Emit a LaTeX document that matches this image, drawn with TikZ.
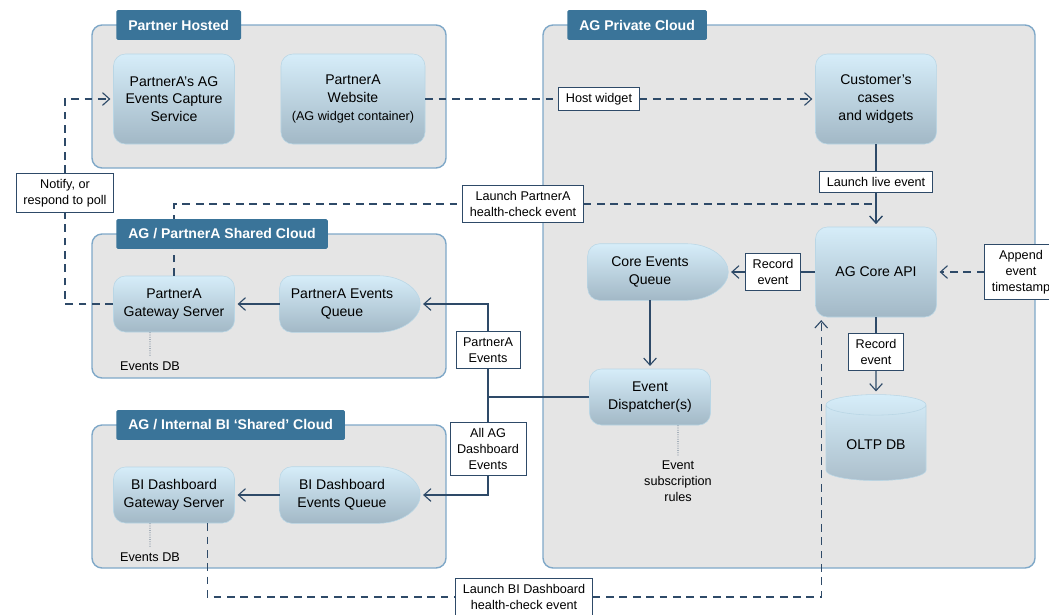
\documentclass[tikz,border=0pt]{standalone}
\usepackage{fontspec}
\setmainfont{Liberation Sans}
\usetikzlibrary{positioning, shapes.geometric, arrows.meta, backgrounds}

\definecolor{lineblue}{HTML}{2E4A68}
\definecolor{tabblue}{HTML}{3A7499}
\definecolor{cloudgray}{HTML}{E5E5E5}
\definecolor{cloudedge}{HTML}{7FA8C8}
\definecolor{boxtop}{HTML}{D6EDF9}
\definecolor{boxbot}{HTML}{A2B8C6}
\definecolor{boxedge}{HTML}{B9D6E5}

\tikzset{
  region/.style={draw=cloudedge, fill=cloudgray, line width=1pt, rounded corners=0.25cm},
  cloudtab/.style={fill=tabblue, text=white, font=\fontsize{10}{12}\selectfont\bfseries, rounded corners=1pt, inner xsep=0.3cm, minimum height=0.74cm, anchor=west},
  comp/.style={draw=boxedge, top color=boxtop, bottom color=boxbot, rounded corners=0.3cm, align=center, font=\fontsize{10}{12.5}\selectfont, minimum width=3.025cm, minimum height=1.4cm},
  tall/.style={minimum height=2.25cm},
  queue/.style={align=center, font=\fontsize{10}{12.5}\selectfont, minimum width=3.1cm, minimum height=1.4cm},
  db/.style={shape=cylinder, shape border rotate=90, aspect=0.3, draw=boxedge, top color=boxtop, bottom color=boxbot!90!white, minimum width=2.5cm, minimum height=2.15cm, font=\fontsize{10}{12}\selectfont},
  tag/.style={draw=lineblue, fill=white, line width=0.7pt, align=center, font=\fontsize{9}{11.5}\selectfont, inner xsep=5pt, inner ysep=4pt},
  note/.style={align=center, font=\fontsize{9}{11.5}\selectfont},
  flow/.style={draw=lineblue, line width=0.8pt},
  call/.style={flow, dash pattern=on 5.5pt off 4pt},
  arr/.style={-{Straight Barb[length=5pt,width=9pt]}, shorten >=2pt},
  dots/.style={draw=lineblue, densely dotted, line width=0.6pt}
}

% queue outline: rounded on the left, pointed on the right
\newcommand{\queuepath}[1]{%
  \shade[draw=boxedge, top color=boxtop, bottom color=boxbot]
    ([xshift=0.3cm]#1.north west) -- ([xshift=-0.65cm]#1.north east)
    .. controls ([xshift=-0.05cm]#1.north east) and ([xshift=0.4cm, yshift=0.35cm]#1.east) .. ([xshift=0.4cm]#1.east)
    .. controls ([xshift=0.4cm, yshift=-0.35cm]#1.east) and ([xshift=-0.05cm]#1.south east) .. ([xshift=-0.65cm]#1.south east)
    -- ([xshift=0.3cm]#1.south west) arc[start angle=270, end angle=180, radius=0.3cm]
    -- ([yshift=-0.3cm]#1.north west) arc[start angle=180, end angle=90, radius=0.3cm] -- cycle;}

\begin{document}
\begin{tikzpicture}[x=0.025cm, y=-0.025cm]
  \useasboundingbox (0,0) rectangle (1049,614);

  % components
  \node[comp, tall] (cap) at (174,99) {PartnerA’s AG\\Events Capture\\Service};
  \node[comp, tall, minimum width=3.6cm] (web) at (353,99) {PartnerA\\Website\\{\fontsize{9}{11}\selectfont (AG widget container)}};
  \node[comp, tall] (cust) at (876,99) {Customer’s\\cases\\and widgets};
  \node[comp] (pgw) at (174,304) {PartnerA\\Gateway Server};
  \node[queue] (peq) at (342,304) {PartnerA Events\\Queue};
  \node[comp] (bigw) at (174,495) {BI Dashboard\\Gateway Server};
  \node[queue] (biq) at (342,495) {BI Dashboard\\Events Queue};
  \node[queue] (ceq) at (650,272) {Core Events\\Queue};
  \node[comp, tall] (api) at (876,272) {AG Core API};
  \node[comp] (disp) at (650,397) {Event\\Dispatcher(s)};
  \node[db] (oltp) at (876,445) {OLTP DB};

  % labels on the connectors
  \node[tag] (notify) at (65,193) {Notify, or\\respond to poll};
  \node[tag] (hw) at (599,99) {Host widget};
  \node[tag] (lpa) at (523,204) {Launch PartnerA\\health-check event};
  \node[tag] (lle) at (876,182) {Launch live event};
  \node[tag] (rec1) at (773,272) {Record\\event};
  \node[tag] (app) at (1021,272) {Append\\event\\timestamp};
  \node[tag] (rec2) at (876,352) {Record\\event};
  \node[tag] (pae) at (488,350) {PartnerA\\Events};
  \node[tag] (aae) at (488,449) {All AG\\Dashboard\\Events};
  \node[tag] (lbi) at (524,597) {Launch BI Dashboard\\health-check event};

  % notes
  \node[note] (pdb) at (150,366) {Events DB};
  \node[note] (bidb) at (150,557) {Events DB};
  \node[note] (rules) at (678,481) {Event\\subscription\\rules};
  \draw[dots] ([xshift=-0.6cm]pgw.south) -- (pdb.north);
  \draw[dots] ([xshift=-0.6cm]bigw.south) -- (bidb.north);
  \draw[dots] ([xshift=0.7cm]disp.south) -- (rules.north);

  % connectors
  \coordinate (jn) at (488,397);
  \draw[call] (pgw.west) -| (notify.south);
  \draw[call, arr] (notify.north) |- (cap.west);
  \draw[call] (web) -- (hw);
  \draw[call, arr] (hw) -- (cust);
  \draw[flow] (cust) -- (lle);
  \draw[flow, arr] (lle) -- (api);
  \draw[call] (pgw.north) |- (lpa.west);
  \draw[call, arr] (lpa.east) -| (api.north);
  \draw[flow] (api) -- (rec1);
  \draw[flow, arr] (rec1) -- ([xshift=0.4cm]ceq.east);
  \draw[call, arr] (app) -- (api);
  \draw[flow] (api) -- (rec2);
  \draw[flow, arr] (rec2) -- (oltp);
  \draw[flow, arr] (disp.north |- ceq.south) -- (disp.north);
  \draw[flow] (disp.west) -- (jn);
  \draw[flow] (jn) -- (pae);
  \draw[flow, arr] (pae.north) |- ([xshift=0.4cm]peq.east);
  \draw[flow] (jn) -- (aae);
  \draw[flow, arr] (aae.south) |- ([xshift=0.4cm]biq.east);
  \draw[flow, arr] (peq.west) -- (pgw.east);
  \draw[flow, arr] (biq.west) -- (bigw.east);
  \draw[call] ([xshift=0.83cm]bigw.south) |- (lbi.west);
  \draw[call, arr] (lbi.east) -| ([xshift=0.15cm]api.south west);

  % clouds
  \begin{scope}[on background layer]
    \draw[region] (92,25) rectangle (446,168);
    \draw[region] (92,234) rectangle (446,378);
    \draw[region] (92,425) rectangle (446,568);
    \draw[region] (543,25) rectangle (1035,568);
    \foreach \q in {peq, biq, ceq} {\queuepath{\q}}
  \end{scope}

  \node[cloudtab] (tabph) at (116,25) {Partner Hosted};
  \node[cloudtab] (tabsc) at (116,234) {AG / PartnerA Shared Cloud};
  \node[cloudtab] (tabbi) at (116,425) {AG / Internal BI ‘Shared’ Cloud};
  \node[cloudtab] (tabpc) at (567,25) {AG Private Cloud};
\end{tikzpicture}
\end{document}
